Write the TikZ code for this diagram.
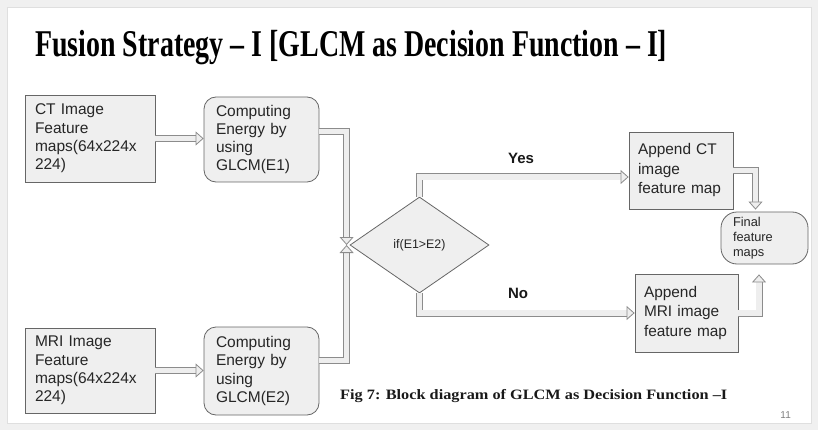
\documentclass[tikz,border=0pt]{standalone}
\usepackage{fontspec}
\setmainfont{Liberation Serif}
\setsansfont{Liberation Sans}
\usepackage{graphicx}
\usepackage{tikz}
\usetikzlibrary{arrows.meta,shapes.geometric}
\definecolor{boxfill}{HTML}{EFEFEF}
\definecolor{boxline}{HTML}{666666}
\definecolor{arrline}{HTML}{8C8C8C}
\definecolor{arrfill}{HTML}{EEEEEE}
\definecolor{slidebg}{HTML}{F0F0F0}

\begin{document}
\begin{tikzpicture}[x=1pt,y=-1pt,
        box/.style={draw=boxline,fill=boxfill,line width=0.8pt,align=left,inner xsep=10pt,inner ysep=0pt,
            font=\sffamily\fontsize{15.5}{18.3}\selectfont,text=black!85},
        rbox/.style={box,rounded corners=12pt},
        hollow/.style={line join=miter,preaction={draw=arrline,line width=7pt,-,shorten >=7.5pt},
            draw=arrfill,line width=5.4pt,-{Triangle[length=8pt,width=14pt,line width=0.8pt,fill=arrfill,color=arrline]}},
        lbl/.style={font=\sffamily\bfseries\fontsize{15}{18}\selectfont,text=black!90}]
        \useasboundingbox (0,0) rectangle (818,430);
        \fill [slidebg] (0,0) rectangle (818,430);
        \draw [gray!25,fill=white] (7,7) rectangle (811,423);
        \node [anchor=base west,inner sep=0pt] (title) at (35,57)
            {\resizebox{632pt}{\height}{\fontsize{37.8}{40}\selectfont\bfseries Fusion Strategy – I [GLCM as Decision Function – I]}};
        \node [box,text width=110pt,minimum height=87pt] (ct) at (90,138.5) {CT Image\\Feature\\maps(64x224x\\224)};
        \node [rbox,text width=91pt,inner xsep=12pt,minimum height=85pt] (e1) at (261.5,139.5) {Computing\\Energy by\\using\\GLCM(E1)};
        \node [box,text width=110pt,minimum height=85pt] (mri) at (90,370.5) {MRI Image\\Feature\\maps(64x224x\\224)};
        \node [rbox,text width=91pt,inner xsep=12pt,minimum height=88pt] (e2) at (261.5,371) {Computing\\Energy by\\using\\GLCM(E2)};
        \node [diamond,draw=boxline,fill=boxfill,line width=0.8pt,minimum width=139pt,minimum height=96pt,inner sep=0pt,
            font=\sffamily\fontsize{12.4}{14}\selectfont,text=black!85] (dec) at (419.5,245) {if(E1>E2)};
        \node [box,text width=86pt,inner xsep=9pt,minimum height=77pt,font=\sffamily\fontsize{15.4}{19.5}\selectfont] (act) at (681,170.5) {Append CT\\image\\feature map};
        \node [box,text width=85pt,inner xsep=9pt,minimum height=78pt,font=\sffamily\fontsize{15.4}{19.5}\selectfont] (amri) at (686.5,313) {Append\\MRI image\\feature map};
        \node [box,rounded corners=16pt,text width=63pt,inner xsep=12pt,minimum height=52pt,
            font=\sffamily\fontsize{12.8}{15}\selectfont] (fin) at (764.5,238) {Final\\feature\\maps};
        \node [lbl] (yes) at (521,158) {Yes};
        \node [lbl] (no) at (518,293) {No};
        \coordinate (meet) at ([xshift=-3pt]dec.west);
        \coordinate (finl) at ([xshift=-9pt,yshift=2pt]fin.north);
        \coordinate (finr) at ([xshift=-5.5pt,yshift=-10pt]fin.south);
        \draw [hollow] (ct.east) -- (ct.east -| e1.west);
        \draw [hollow] (mri.east) -- (mri.east -| e2.west);
        \draw [hollow] ([yshift=8pt]e1.east) -| (meet);
        \draw [hollow] ([yshift=10.5pt]e2.east) -| (meet);
        \draw [hollow] (dec.north) |- ([yshift=-6.5pt]act.west);
        \draw [hollow] (dec.south) |- (amri.west);
        \draw [hollow] (act.east) -| (finl);
        \draw [hollow] (amri.east) -| (finr);
        \node [anchor=base west,inner sep=0pt,text=black!90] (cap) at (340,399)
            {\resizebox{387pt}{\height}{\fontsize{14.3}{16}\selectfont\bfseries Fig 7: Block diagram of GLCM as Decision Function –I}};
        \node [anchor=base east,inner sep=0pt,font=\sffamily\fontsize{10}{12}\selectfont,text=gray] (pg) at (791,418) {11};
        \end{tikzpicture}
\end{document}
